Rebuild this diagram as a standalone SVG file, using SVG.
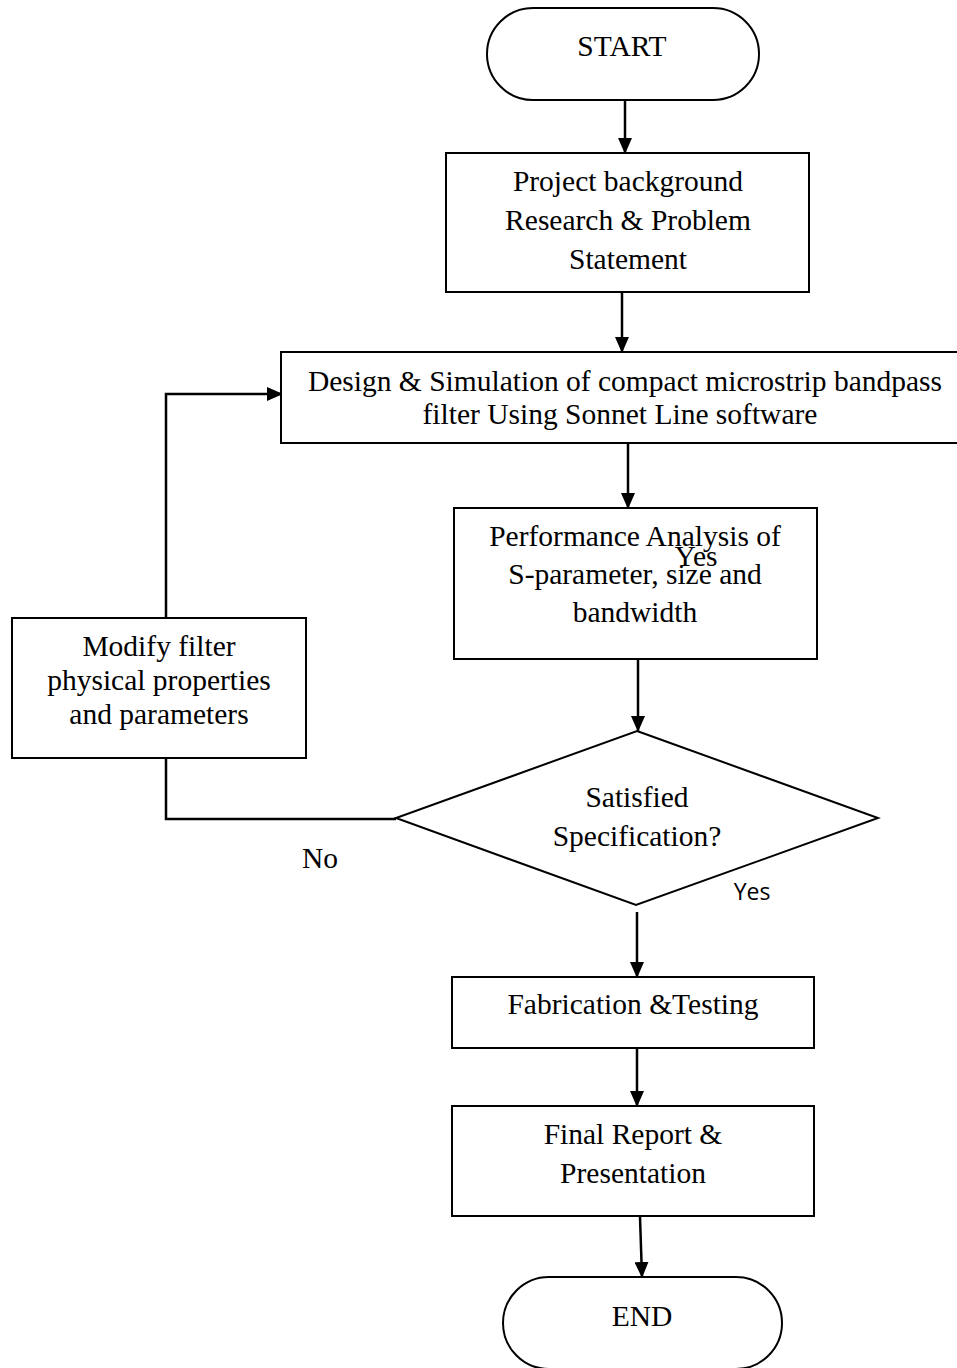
<svg xmlns="http://www.w3.org/2000/svg" width="957" height="1368" viewBox="0 0 957 1368">
<defs>
<marker id="ah" markerWidth="16" markerHeight="14" refX="15" refY="7" orient="auto" markerUnits="userSpaceOnUse">
<path d="M0,0 L16,7 L0,14 Z" fill="#000"/>
</marker>
<style>
.box{fill:#fff;stroke:#000;stroke-width:2}
.t{font-family:"Liberation Serif","Times New Roman",serif;font-size:29.5px;fill:#000;text-anchor:middle}
.s{font-family:"Open Sans","Liberation Sans",sans-serif;font-size:23px;fill:#000;text-anchor:middle}
.c{fill:none;stroke:#000;stroke-width:2.5}
</style>
</defs>
<rect width="957" height="1368" fill="#fff"/>
<g id="connectors">
<line class="c" x1="625" y1="100" x2="625" y2="153" marker-end="url(#ah)"/>
<line class="c" x1="622" y1="292" x2="622" y2="352" marker-end="url(#ah)"/>
<line class="c" x1="628" y1="443" x2="628" y2="508" marker-end="url(#ah)"/>
<line class="c" x1="638" y1="659" x2="638" y2="731" marker-end="url(#ah)"/>
<line class="c" x1="637" y1="912" x2="637" y2="977" marker-end="url(#ah)"/>
<line class="c" x1="637" y1="1048" x2="637" y2="1106" marker-end="url(#ah)"/>
<line class="c" x1="640" y1="1217" x2="642" y2="1277" marker-end="url(#ah)"/>
<polyline class="c" points="166,618 166,394 282,394" marker-end="url(#ah)"/>
<polyline class="c" points="166,758 166,819 396,819"/>
<text class="t" x="320" y="868">No</text>
<text class="s" x="752" y="900">Yes</text>
</g>
<g id="start">
<rect class="box" x="487" y="8" width="272" height="92" rx="46" ry="46"/>
<text class="t" x="622" y="56">START</text>
</g>
<g id="background">
<rect class="box" x="446" y="153" width="363" height="139"/>
<text class="t" x="628" y="191">Project background</text>
<text class="t" x="628" y="230">Research &amp; Problem</text>
<text class="t" x="628" y="269">Statement</text>
</g>
<g id="design">
<rect class="box" x="281" y="352" width="680" height="91"/>
<text class="t" x="625" y="391">Design &amp; Simulation of compact microstrip bandpass</text>
<text class="t" x="620" y="424">filter Using Sonnet Line software</text>
</g>
<g id="performance">
<rect class="box" x="454" y="508" width="363" height="151"/>
<text class="t" x="635" y="546">Performance Analysis of</text>
<text class="t" x="696" y="566">Yes</text>
<text class="t" x="635" y="584">S-parameter, size and</text>
<text class="t" x="635" y="622">bandwidth</text>
</g>
<g id="decision">
<polygon class="box" points="637,731 878,818 636,905 396,818"/>
<text class="t" x="637" y="807">Satisfied</text>
<text class="t" x="637" y="846">Specification?</text>
</g>
<g id="modify">
<rect class="box" x="12" y="618" width="294" height="140"/>
<text class="t" x="159" y="656">Modify filter</text>
<text class="t" x="159" y="690">physical properties</text>
<text class="t" x="159" y="724">and parameters</text>
</g>
<g id="fabrication">
<rect class="box" x="452" y="977" width="362" height="71"/>
<text class="t" x="633" y="1014">Fabrication &amp;Testing</text>
</g>
<g id="report">
<rect class="box" x="452" y="1106" width="362" height="110"/>
<text class="t" x="633" y="1144">Final Report &amp;</text>
<text class="t" x="633" y="1183">Presentation</text>
</g>
<g id="end">
<rect class="box" x="503" y="1277" width="279" height="92" rx="46" ry="46"/>
<text class="t" x="642" y="1326">END</text>
</g>
</svg>
